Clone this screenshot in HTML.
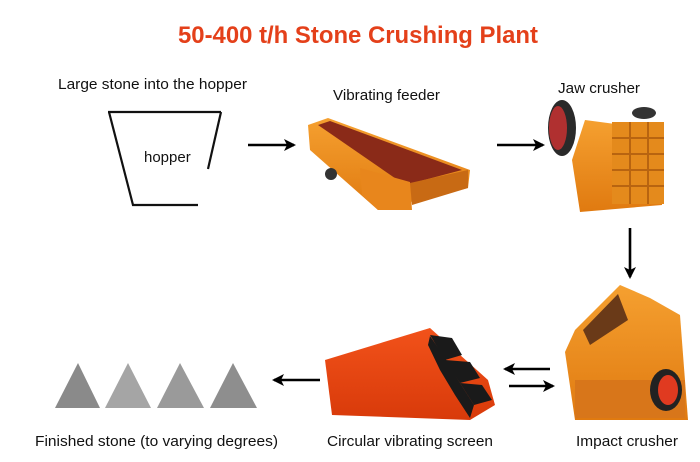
<!DOCTYPE html>
<html><head><meta charset="utf-8"><style>
html,body{margin:0;padding:0;background:#fff;}
svg{display:block;font-family:"Liberation Sans",Arial,sans-serif;}
</style></head><body>
<svg width="700" height="462" viewBox="0 0 700 462" xmlns="http://www.w3.org/2000/svg">
<defs>
<linearGradient id="og" x1="0" y1="0" x2="0" y2="1"><stop offset="0" stop-color="#f5a030"/><stop offset="1" stop-color="#e07a10"/></linearGradient>
<linearGradient id="rg" x1="0" y1="0" x2="0" y2="1"><stop offset="0" stop-color="#f2521a"/><stop offset="1" stop-color="#d83a0a"/></linearGradient>
<marker id="ah" markerWidth="12" markerHeight="12" refX="10" refY="6" orient="auto" markerUnits="userSpaceOnUse"><path d="M0,0 L12,6 L0,12 L3,6 Z" fill="#000"/></marker>
</defs>
<text x="358" y="43" text-anchor="middle" font-size="24" font-weight="bold" fill="#e4401a" textLength="360" lengthAdjust="spacingAndGlyphs">50-400 t/h Stone Crushing Plant</text>
<text x="58" y="89" font-size="15" fill="#111" textLength="189" lengthAdjust="spacingAndGlyphs">Large stone into the hopper</text>
<text x="333" y="100" font-size="15" fill="#111" textLength="107" lengthAdjust="spacingAndGlyphs">Vibrating feeder</text>
<text x="558" y="93" font-size="15" fill="#111" textLength="82" lengthAdjust="spacingAndGlyphs">Jaw crusher</text>
<text x="35" y="446" font-size="15" fill="#111" textLength="243" lengthAdjust="spacingAndGlyphs">Finished stone (to varying degrees)</text>
<text x="327" y="446" font-size="15" fill="#111" textLength="166" lengthAdjust="spacingAndGlyphs">Circular vibrating screen</text>
<text x="576" y="446" font-size="15" fill="#111" textLength="102" lengthAdjust="spacingAndGlyphs">Impact crusher</text>
<!-- hopper -->
<g stroke="#111" stroke-width="2.2" fill="none">
<path d="M108,112 L221,112"/><path d="M109,112 L133,205 L198,205"/><path d="M221,112 L208,169"/>
</g>
<text x="144" y="162" font-size="15" fill="#111">hopper</text>
<!-- arrows -->
<g stroke="#000" stroke-width="2.6" fill="none" marker-end="url(#ah)">
<line x1="248" y1="145" x2="294" y2="145"/>
<line x1="497" y1="145" x2="543" y2="145"/>
<line x1="630" y1="228" x2="630" y2="277"/>
<line x1="550" y1="369" x2="505" y2="369"/>
<line x1="509" y1="386" x2="553" y2="386"/>
<line x1="320" y1="380" x2="274" y2="380"/>
</g>
<!-- vibrating feeder -->
<polygon points="308,125 328,118 470,170 468,188 378,210 310,150" fill="url(#og)"/>
<polygon points="318,125 330,121 462,170 405,185" fill="#8a2a18"/>
<polygon points="360,168 410,182 412,210 378,210 362,195" fill="#e8861c"/>
<polygon points="410,183 468,170 468,188 412,205" fill="#c86a14"/>
<circle cx="331" cy="174" r="6" fill="#333"/>
<!-- jaw crusher -->
<polygon points="585,120 660,130 662,205 580,212 572,160" fill="url(#og)"/>
<rect x="612" y="122" width="52" height="82" fill="#e48a1c"/>
<g stroke="#b86410" stroke-width="2"><line x1="612" y1="138" x2="664" y2="138"/><line x1="612" y1="154" x2="664" y2="154"/><line x1="612" y1="170" x2="664" y2="170"/><line x1="612" y1="186" x2="664" y2="186"/><line x1="630" y1="122" x2="630" y2="204"/><line x1="648" y1="122" x2="648" y2="204"/></g>
<ellipse cx="562" cy="128" rx="14" ry="28" fill="#2a2a2a"/>
<ellipse cx="558" cy="128" rx="9" ry="22" fill="#b03030"/>
<ellipse cx="644" cy="113" rx="12" ry="6" fill="#333"/>
<!-- impact crusher -->
<polygon points="575,330 620,285 650,298 680,315 688,420 575,420 565,352" fill="url(#og)"/>
<polygon points="583,330 618,294 628,320 590,345" fill="#6a3a18"/>
<rect x="575" y="380" width="110" height="38" fill="#d8761a"/>
<ellipse cx="666" cy="390" rx="16" ry="21" fill="#222"/>
<ellipse cx="668" cy="390" rx="10" ry="15" fill="#e03a20"/>
<!-- circular vibrating screen -->
<polygon points="325,360 430,328 488,380 495,405 470,420 332,415" fill="url(#rg)"/>
<g fill="#1a1a1a">
<polygon points="430,335 452,338 462,355 445,360"/>
<polygon points="445,360 470,362 480,378 460,383"/>
<polygon points="460,383 482,385 492,400 474,405"/>
<polygon points="430,336 445,358 460,383 474,405 470,418 455,395 440,370 428,345"/>
</g>
<!-- pyramids -->
<g>
<polygon points="78,363 100,408 55,408" fill="#8a8a8a"/>
<polygon points="128,363 151,408 105,408" fill="#a5a5a5"/>
<polygon points="180,363 204,408 157,408" fill="#9a9a9a"/>
<polygon points="233,363 257,408 210,408" fill="#8e8e8e"/>
</g>
</svg>
</body></html>
